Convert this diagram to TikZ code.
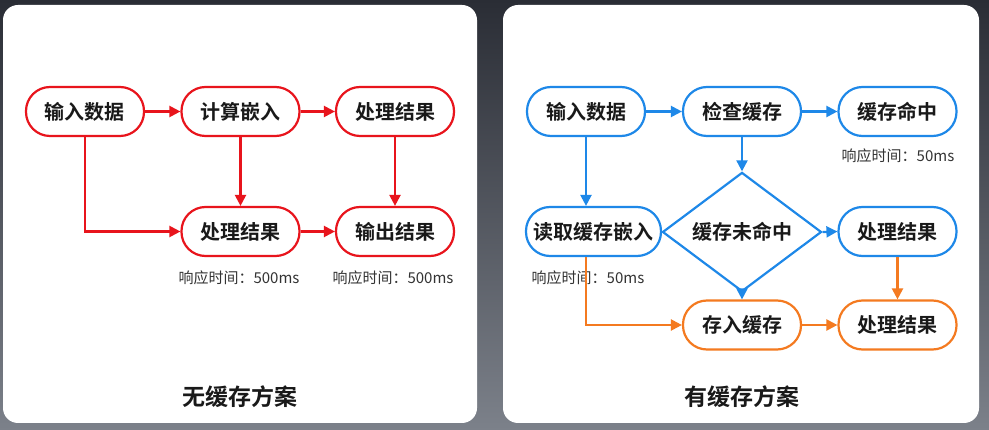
\documentclass[tikz,border=0pt]{standalone}
\usepackage{fontspec}
\setmainfont{Noto Sans CJK SC}
\newfontfamily\cjkb{Noto Sans CJK SC Bold}
\usetikzlibrary{shapes.geometric,arrows.meta}
\definecolor{cred}{HTML}{E8141C}
\definecolor{cblue}{HTML}{1E88E8}
\definecolor{corange}{HTML}{F47A20}
\definecolor{bgtop}{HTML}{2A2D35}
\definecolor{bgbot}{HTML}{7C818A}
\definecolor{lbl}{HTML}{333333}
\tikzset{
  box/.style={draw, line width=2.2pt, rounded corners=24pt, minimum width=118pt, minimum height=49pt, inner sep=0pt, fill=white, text=black!90, font=\cjkb\fontsize{20}{22}\selectfont},
  wbox/.style={box, minimum width=135pt},
  dia/.style={draw=cblue, line width=2.2pt, diamond, minimum width=159pt, minimum height=92pt, inner sep=0pt, fill=white, text=black!90, font=\cjkb\fontsize{20}{22}\selectfont},
  lab/.style={text=lbl, font=\fontsize{15}{17}\selectfont, inner sep=0pt},
  ttl/.style={text=black!90, font=\cjkb\fontsize{23}{25}\selectfont, inner sep=0pt},
  arr/.style={line width=2.2pt, -{Triangle[length=11pt,width=11pt]}},
  panel/.style={fill=white, rounded corners=15pt, draw=none}
}
\begin{document}
\begin{tikzpicture}[x=1pt,y=-1pt]
\shade[top color=bgtop, bottom color=bgbot] (0,0) rectangle (989,430);
\useasboundingbox (0,0) rectangle (989,430);
\fill[panel] (3,5) rectangle (477,423);
\fill[panel] (503,5) rectangle (979,423);
% left panel
\node[box, draw=cred] (lin) at (85,111.5) {输入数据};
\node[box, draw=cred] (lcalc) at (240.5,111.5) {计算嵌入};
\node[box, draw=cred] (lproc1) at (395,111.5) {处理结果};
\node[box, draw=cred] (lproc2) at (240.5,231.5) {处理结果};
\node[box, draw=cred] (lout) at (395,231.5) {输出结果};
\node[lab] (llab1) at (239,278) {响应时间：500ms};
\node[lab] (llab2) at (393,278) {响应时间：500ms};
\node[ttl] (ltitle) at (240,397) {无缓存方案};
\draw[arr, cred] (lin.east) -- (lcalc.west);
\draw[arr, cred] (lcalc.east) -- (lproc1.west);
\draw[arr, cred] (lin.south) |- (lproc2.west);
\draw[arr, cred] (lcalc.south) -- (lproc2.north);
\draw[arr, cred] (lproc1.south) -- (lout.north);
\draw[arr, cred] (lproc2.east) -- (lout.west);
% right panel
\node[box, draw=cblue] (rin) at (586,111.5) {输入数据};
\node[box, draw=cblue] (rcheck) at (742,111.5) {检查缓存};
\node[box, draw=cblue] (rhit) at (897.5,111.5) {缓存命中};
\node[wbox, draw=cblue] (rread) at (593.5,231.5) {读取缓存嵌入};
\node[dia] (rmiss) at (742,232) {缓存未命中};
\node[box, draw=cblue] (rproc) at (897.5,231.5) {处理结果};
\node[box, draw=corange] (rstore) at (742,325) {存入缓存};
\node[box, draw=corange] (rproc2) at (897.5,325) {处理结果};
\node[lab] (rlab1) at (898,156) {响应时间：50ms};
\node[lab] (rlab2) at (588,278) {响应时间：50ms};
\node[ttl] (rtitle) at (742,397) {有缓存方案};
\draw[arr, cblue] (rin.east) -- (rcheck.west);
\draw[arr, cblue] (rcheck.east) -- (rhit.west);
\draw[arr, cblue] (rin.south) -- (rin.south |- rread.north);
\draw[arr, cblue] (rcheck.south) -- (rmiss.north);
\draw[arr, cblue] (rmiss.east) -- (rproc.west);
\draw[arr, cblue] (rmiss.south) -- (rstore.north);
\draw[arr, corange] (rin.south |- rread.south) |- (rstore.west);
\draw[arr, corange] (rproc.south) -- (rproc2.north);
\draw[arr, corange] (rstore.east) -- (rproc2.west);
\end{tikzpicture}
\end{document}
